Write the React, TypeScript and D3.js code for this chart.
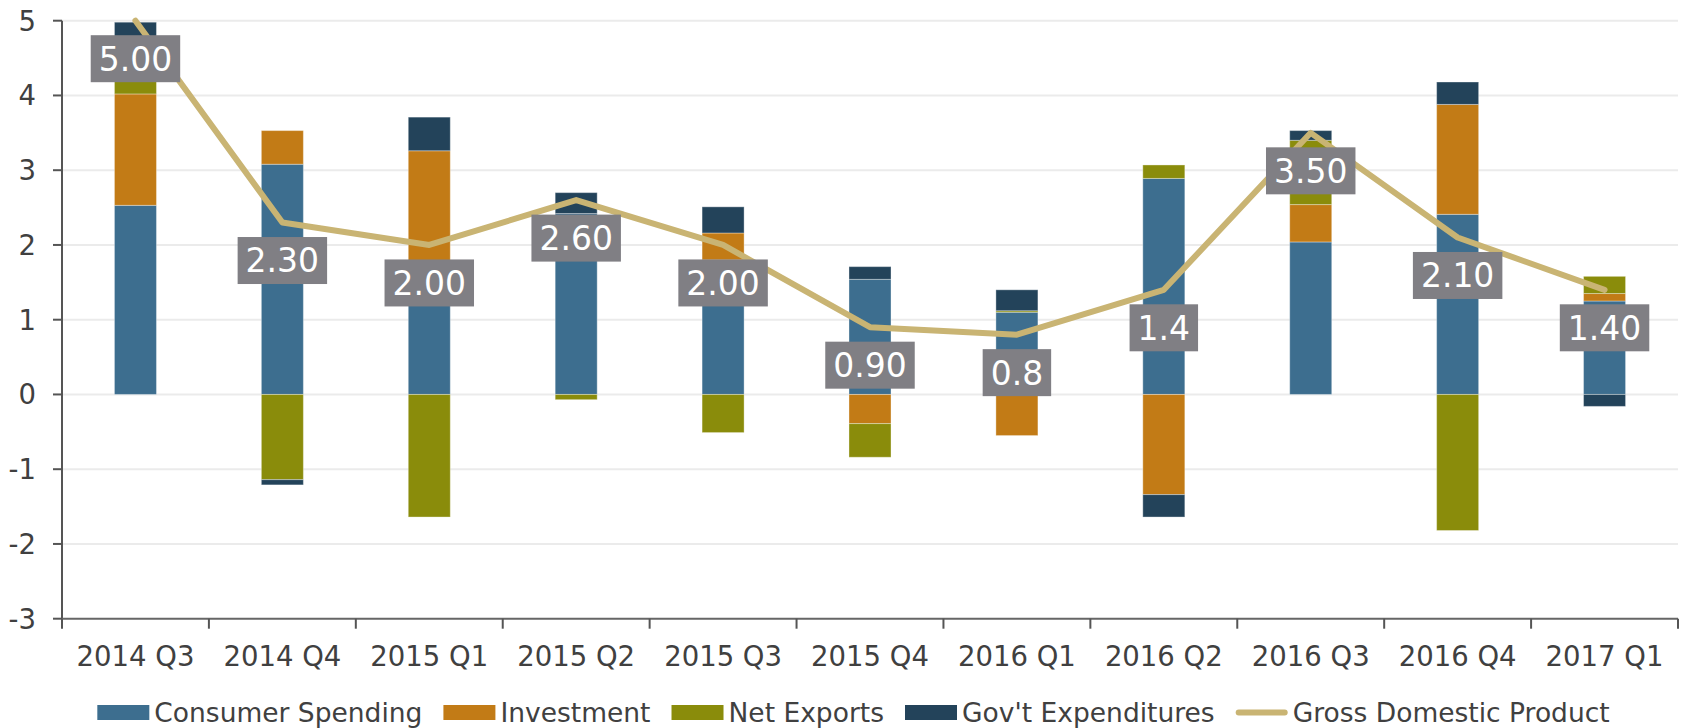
import React, { useEffect } from "react";
import * as d3 from "d3";

const categories = ["2014 Q3", "2014 Q4", "2015 Q1", "2015 Q2", "2015 Q3", "2015 Q4", "2016 Q1", "2016 Q2", "2016 Q3", "2016 Q4", "2017 Q1"];
const consumerSpending = [2.53, 3.08, 1.6, 2.42, 1.8, 1.54, 1.1, 2.89, 2.04, 2.41, 1.25];
const investment = [1.49, 0.45, 1.66, 0.0, 0.36, -0.39, -0.55, -1.34, 0.5, 1.47, 0.1];
const netExports = [0.55, -1.14, -1.64, -0.07, -0.51, -0.45, 0.02, 0.18, 0.86, -1.82, 0.23];
const govExpenditures = [0.41, -0.07, 0.45, 0.28, 0.35, 0.17, 0.28, -0.3, 0.13, 0.3, -0.16];
const gdp = [5.0, 2.3, 2.0, 2.6, 2.0, 0.9, 0.8, 1.4, 3.5, 2.1, 1.4];
const gdpLabels = ["5.00", "2.30", "2.00", "2.60", "2.00", "0.90", "0.8", "1.4", "3.50", "2.10", "1.40"];
const yTicks = [-3, -2, -1, 0, 1, 2, 3, 4, 5];

const seriesNames = ["Consumer Spending", "Investment", "Net Exports", "Gov't Expenditures"];
const seriesColors = ["#3d6e8f", "#c27b16", "#8a8c0b", "#23435a"];
const lineName = "Gross Domestic Product";
const lineColor = "#c9b473";

const W = 1683;
const H = 728;
const FONT = "'DejaVu Sans', Verdana, sans-serif";
const TEXT = "#404040";

function measure(text: string, size: number) {
  const c = document.createElement("canvas").getContext("2d")!;
  c.font = `${size}px 'DejaVu Sans'`;
  return c.measureText(text).width;
}

export default function App() {
  useEffect(() => {
    document.body.style.margin = "0";
    document.body.style.overflow = "hidden";
  }, []);

  const x = d3.scaleBand<string>().domain(categories).range([62, 1678]).padding(0);
  const y = d3.scaleLinear().domain([-3, 5]).range([618.7, 20.7]);
  const bw = x.bandwidth();
  const barW = bw * 0.286;

  const rows = categories.map((c, i) => ({
    cat: c,
    s0: consumerSpending[i],
    s1: investment[i],
    s2: netExports[i],
    s3: govExpenditures[i],
  }));
  const keys = ["s0", "s1", "s2", "s3"];
  const stacked = d3.stack<any>().keys(keys).offset(d3.stackOffsetDiverging)(rows);

  const cx = (c: string) => (x(c) as number) + bw / 2;
  const line = d3
    .line<number>()
    .x((_, i) => cx(categories[i]))
    .y((d) => y(d));

  const boundaries = [...categories.map((c) => x(c) as number), 1678];

  // legend layout
  const legSize = 26.5;
  const items = [
    ...seriesNames.map((n, i) => ({ name: n, color: seriesColors[i], kind: "rect" })),
    { name: lineName, color: lineColor, kind: "line" },
  ];
  const swW = 52;
  const swGap = 5;
  const itemGap = 21;
  const widths = items.map((it) => swW + swGap + measure(it.name, legSize));
  const total = widths.reduce((a, b) => a + b, 0) + itemGap * (items.length - 1);
  let lx = 853.5 - total / 2;
  const legendPos = widths.map((w) => {
    const p = lx;
    lx += w + itemGap;
    return p;
  });

  const labSize = 33;

  return (
    <svg width={W} height={H} style={{ display: "block", background: "#fff" }} fontFamily={FONT}>
      {/* gridlines */}
      {yTicks
        .filter((t) => t !== -3)
        .map((t) => (
          <line key={t} x1={62} x2={1678} y1={y(t)} y2={y(t)} stroke="#ebebeb" strokeWidth={2} />
        ))}
      {/* bars */}
      {stacked.map((s, si) => (
        <g key={si} fill={seriesColors[si]}>
          {s.map((d, i) => {
            const y0 = y(d[0]);
            const y1 = y(d[1]);
            const h = Math.abs(y0 - y1);
            if (h < 0.01) return null;
            return (
              <rect
                key={i}
                x={cx(categories[i]) - barW / 2}
                y={Math.min(y0, y1)}
                width={barW}
                height={h}
                stroke="rgba(255,255,255,0.35)"
                strokeWidth={1}
              />
            );
          })}
        </g>
      ))}
      {/* y axis */}
      <line x1={62} x2={62} y1={y(5)} y2={y(-3)} stroke="#555" strokeWidth={2} />
      {yTicks.map((t) => (
        <g key={t}>
          <line x1={53} x2={62} y1={y(t)} y2={y(t)} stroke="#555" strokeWidth={2} />
          <text x={36} y={y(t)} dy="0.36em" textAnchor="end" fontSize={27.5} fill={TEXT}>
            {t}
          </text>
        </g>
      ))}
      {/* x axis */}
      <line x1={62} x2={1678} y1={y(-3)} y2={y(-3)} stroke="#666" strokeWidth={2} />
      {boundaries.map((b, i) => (
        <line key={i} x1={b} x2={b} y1={y(-3)} y2={y(-3) + 10} stroke="#555" strokeWidth={2} />
      ))}
      {categories.map((c) => (
        <text key={c} x={cx(c)} y={665.5} textAnchor="middle" fontSize={27.5} fill={TEXT}>
          {c}
        </text>
      ))}
      {/* GDP line */}
      <path d={line(gdp) || ""} fill="none" stroke={lineColor} strokeWidth={6} strokeLinejoin="round" strokeLinecap="round" />
      {/* data labels */}
      {gdp.map((v, i) => {
        const w = measure(gdpLabels[i], labSize) + 16;
        const px = cx(categories[i]);
        const py = y(v) + 38;
        return (
          <g key={i}>
            <rect x={px - w / 2} y={py - 23.5} width={w} height={47} fill="#807f84" />
            <text x={px} y={py} dy="0.36em" textAnchor="middle" fontSize={labSize} fill="#fff">
              {gdpLabels[i]}
            </text>
          </g>
        );
      })}
      {/* legend */}
      {items.map((it, i) => {
        const p = legendPos[i];
        return (
          <g key={it.name}>
            {it.kind === "rect" ? (
              <rect x={p} y={705} width={swW} height={15} fill={it.color} />
            ) : (
              <line x1={p + 3} x2={p + swW - 3} y1={712.5} y2={712.5} stroke={it.color} strokeWidth={6} strokeLinecap="round" />
            )}
            <text x={p + swW + swGap} y={721.5} fontSize={legSize} fill={TEXT}>
              {it.name}
            </text>
          </g>
        );
      })}
    </svg>
  );
}
